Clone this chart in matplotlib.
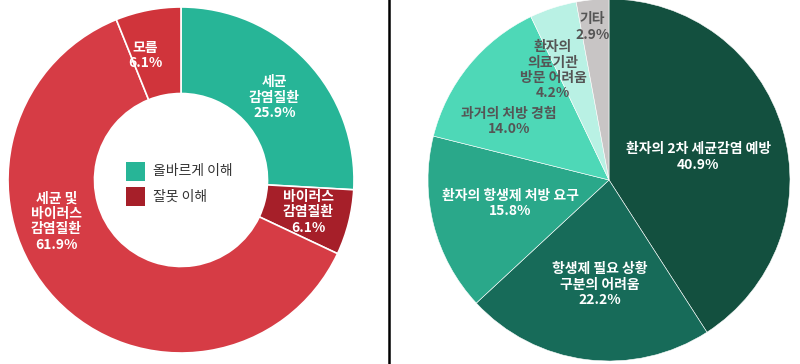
import numpy as np
import matplotlib
matplotlib.use("Agg")
import matplotlib.pyplot as plt
from matplotlib.patches import Rectangle

plt.rcParams['font.family'] = ['Noto Sans CJK KR', 'DejaVu Sans']

# ---- data ----
left_labels = ["세균\n감염질환", "바이러스\n감염질환", "세균 및\n바이러스\n감염질환", "모름"]
left_values = [25.9, 6.1, 61.9, 6.1]
left_colors = ["#27B597", "#A61F29", "#D63C45", "#D0343B"]
legend_labels = ["올바르게 이해", "잘못 이해"]
legend_colors = ["#27B597", "#A61F29"]

right_labels = ["환자의 2차 세균감염 예방", "항생제 필요 상황\n구분의 어려움", "환자의 항생제 처방 요구",
                "과거의 처방 경험", "환자의\n의료기관\n방문 어려움", "기타"]
right_values = [40.9, 22.2, 15.8, 14.0, 4.2, 2.9]
right_colors = ["#13503F", "#176B59", "#2AA88A", "#4ED8B7", "#B9F1E4", "#C8C5C5"]
right_text_colors = ["white", "white", "white", "#555555", "#555555", "#555555"]

# label placement (radius fraction, angle nudge in degrees)
left_lab_r = [0.72, 0.76, 0.76, 0.75]
left_lab_da = [-2, 0, -25, 5]
right_lab_r = [0.51, 0.58, 0.56, 0.64, 0.68, 0.85]
right_lab_da = [-2, 2, -1, 9, 9, 1]

W, H = 800, 364
fig = plt.figure(figsize=(W / 100, H / 100), dpi=100)


def add_axes_px(cx, cy, r):
    return fig.add_axes([(cx - r) / W, (H - cy - r) / H, 2 * r / W, 2 * r / H])


def place_labels(ax, wedges, labels, values, radii, dangs, colors):
    for w, lab, v, rr, da, c in zip(wedges, labels, values, radii, dangs, colors):
        mid = np.deg2rad((w.theta1 + w.theta2) / 2 + da)
        ax.text(rr * np.cos(mid), rr * np.sin(mid), f"{lab}\n{v:.1f}%",
                ha="center", va="center", fontsize=10, fontweight="bold",
                color=c, linespacing=1.13)


# ---- left donut ----
axl = add_axes_px(181, 180, 173)
wl, _ = axl.pie(left_values, colors=left_colors, startangle=90, counterclock=False,
                radius=1, wedgeprops=dict(width=0.5, edgecolor="white", linewidth=1.2))
axl.set_xlim(-1, 1)
axl.set_ylim(-1, 1)
axl.set_aspect("equal")
axl.axis("off")
place_labels(axl, wl, left_labels, left_values, left_lab_r, left_lab_da, ["white"] * 4)

# legend in the hole (pixel-based)
for i, (lab, col) in enumerate(zip(legend_labels, legend_colors)):
    y0 = 162 + i * 25
    fig.patches.append(Rectangle((126 / W, (H - y0 - 19) / H), 19 / W, 19 / H,
                                 transform=fig.transFigure, facecolor=col, edgecolor="none"))
    fig.text(153 / W, (H - y0 - 9.5) / H, lab, ha="left", va="center",
             fontsize=10, color="#333333")

# ---- separator ----
fig.add_artist(plt.Line2D([389 / W, 389 / W], [0, 1], color="black", linewidth=1.8,
                          transform=fig.transFigure))

# ---- right pie ----
axr = add_axes_px(609, 180, 181)
wr, _ = axr.pie(right_values, colors=right_colors, startangle=90, counterclock=False,
                radius=1, wedgeprops=dict(edgecolor="white", linewidth=0.4))
axr.set_xlim(-1, 1)
axr.set_ylim(-1, 1)
axr.set_aspect("equal")
axr.axis("off")
place_labels(axr, wr, right_labels, right_values, right_lab_r, right_lab_da, right_text_colors)

fig.savefig("out.png", dpi=100)
